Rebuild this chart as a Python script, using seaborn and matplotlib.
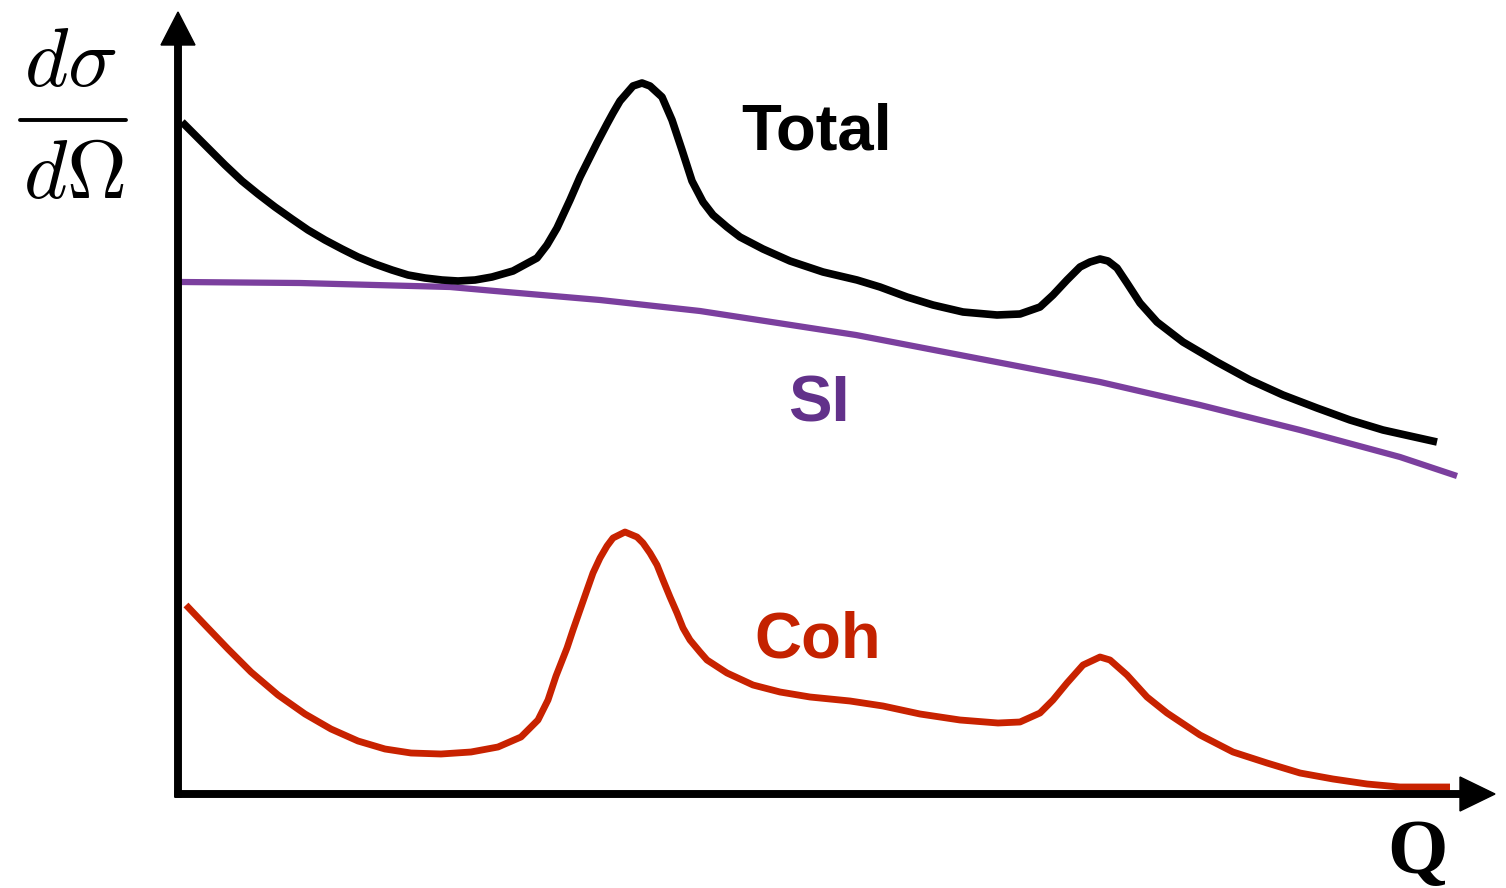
import matplotlib
matplotlib.use("Agg")
import matplotlib.pyplot as plt
from matplotlib.lines import Line2D
import seaborn as sns

# ---- data (arbitrary units: Q along the axis, I above the axis) ----
total_q = [4, 17, 30, 47, 64, 80, 97, 114, 130, 147, 164, 180, 197, 214, 230, 247, 264, 280,
           297, 314, 335, 359, 369, 379, 392, 402, 412, 419, 429, 435, 442, 455, 464, 472,
           484, 494, 504, 514, 525, 535, 549, 562, 585, 612, 645, 679, 702, 729, 755, 785,
           819, 842, 862, 875, 889, 902, 912, 922, 930, 939, 949, 962, 979, 1005, 1039,
           1072, 1105, 1139, 1172, 1205, 1259]
total_i = [672, 659, 646, 629, 613, 600, 587, 575, 564, 554, 545, 537, 530, 524, 519, 516, 514, 513,
           514, 517, 523, 536, 549, 566, 594, 617, 637, 651, 670, 681, 693, 708, 711, 708,
           697, 674, 644, 613, 592, 579, 567, 557, 545, 533, 522, 514, 507, 497, 489, 482,
           479, 480, 487, 499, 514, 527, 532, 535, 533, 526, 511, 491, 472, 452, 432,
           414, 399, 386, 374, 364, 352]

si_q = [3, 122, 272, 317, 422, 522, 678, 834, 922, 1022, 1122, 1222, 1279]
si_i = [512, 511, 507, 503, 494, 483, 459, 429, 412, 389, 364, 337, 318]

coh_q = [8, 27, 50, 73, 100, 127, 153, 180, 207, 233, 263, 293, 320, 343, 360, 370, 378,
         389, 395, 402, 409, 415, 422, 429, 435, 447, 459, 465, 472, 479, 485, 492, 499,
         505, 512, 522, 529, 549, 575, 602, 632, 672, 705, 742, 782, 820, 842, 862, 875,
         889, 905, 922, 932, 949, 969, 989, 1022, 1055, 1089, 1122, 1155, 1189, 1222, 1272]
coh_i = [189, 169, 145, 122, 99, 80, 65, 53, 45, 41, 40, 42, 47, 57, 74, 94, 118,
         146, 164, 184, 204, 221, 236, 248, 256, 262, 257, 251, 241, 229, 214, 197, 181,
         166, 154, 142, 134, 121, 109, 102, 97, 93, 88, 80, 74, 71, 72, 81, 94,
         111, 129, 137, 134, 119, 97, 81, 59, 42, 31, 21, 15, 10, 7, 7]

labels = ["Total", "SI", "Coh"]
line_colors = ["#000000", "#7b3f9e", "#c82200"]
text_colors = ["#000000", "#62318a", "#c42200"]

# ---- figure ----
sns.set_theme(style="white")
plt.rcParams["font.family"] = ["Liberation Sans", "DejaVu Sans"]
plt.rcParams["mathtext.fontset"] = "cm"
plt.rcParams["text.color"] = "black"

W, H = 1506, 888
ox, oy = 178, 794  # pixel position of the origin
fig = plt.figure(figsize=(W / 100, H / 100), dpi=100)
fig.patch.set_facecolor("white")
ax = fig.add_axes([ox / W, (H - oy) / H, (W - ox) / W, oy / H])
ax.set_xlim(0, W - ox)
ax.set_ylim(0, oy)
ax.set_axis_off()

sns.lineplot(x=si_q, y=si_i, ax=ax, color=line_colors[1], lw=4.5, estimator=None, sort=False)
sns.lineplot(x=coh_q, y=coh_i, ax=ax, color=line_colors[2], lw=4.9, estimator=None, sort=False)
sns.lineplot(x=total_q, y=total_i, ax=ax, color=line_colors[0], lw=5.5, estimator=None, sort=False)
for ln in ax.get_lines():
    ln.set_solid_capstyle("butt")
    ln.set_solid_joinstyle("round")

# axes arrows
ax.arrow(0, -3, 0, 785, width=6.5, head_width=34, head_length=33,
         length_includes_head=True, color="black", clip_on=False, zorder=5)
ax.arrow(-3, 0, 1320, 0, width=6.5, head_width=34, head_length=35,
         length_includes_head=True, color="black", clip_on=False, zorder=5)

# curve labels
label_pos = [(639, 661), (641, 389), (640, 154)]
for lab, (lx, ly), c in zip(labels, label_pos, text_colors):
    ax.text(lx, ly, lab, color=c, fontsize=47, fontweight="bold",
            ha="center", va="center")

# axis labels
ax.text(1239, -60, "Q", fontsize=56, fontweight="bold", family=["Liberation Serif"],
        color="black", ha="center", va="center", clip_on=False)
ax.text(-108, 708, r"$d\sigma$", fontsize=60, color="black",
        ha="center", va="baseline", clip_on=False)
ax.text(-104, 596, r"$d\Omega$", fontsize=60, color="black",
        ha="center", va="baseline", clip_on=False)
fig.add_artist(Line2D([20 / W, 126 / W], [1 - 120 / H, 1 - 120 / H],
                      color="black", lw=2.8, transform=fig.transFigure))

fig.savefig("out.png", dpi=100, facecolor="white")
